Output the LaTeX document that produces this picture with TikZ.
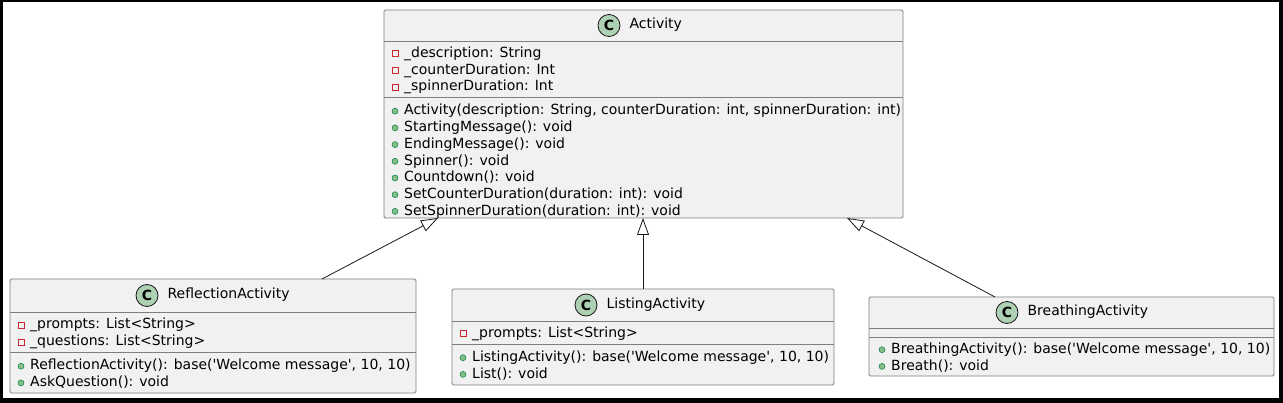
\documentclass[tikz,border=0pt]{standalone}
\usepackage{fontspec}
\newfontfamily\umlfont{DejaVu Sans}
\usetikzlibrary{arrows.meta, calc, positioning}
\definecolor{classfill}{HTML}{F1F1F1}
\definecolor{classline}{HTML}{7E7E7E}
\definecolor{iconfill}{HTML}{ADD1B2}
\definecolor{privred}{HTML}{C82930}
\definecolor{pubfill}{HTML}{84BE84}
\definecolor{publine}{HTML}{038048}
\definecolor{umledge}{HTML}{181818}
\newcommand{\umlsize}{\umlfont\fontsize{14}{16.3}\selectfont}

\begin{document}
\begin{tikzpicture}[x=1pt, y=-1pt,
  every node/.style = {font=\umlsize},
  classbox/.style   = {draw=classline, fill=classfill, line width=0.8pt,
                       rounded corners=1.5pt, anchor=north west,
                       inner sep=0pt, outer sep=0pt},
  sepline/.style    = {draw=classline, line width=0.8pt},
  classicon/.style  = {circle, draw=umledge, fill=iconfill, line width=0.8pt,
                       minimum size=22pt, inner sep=0pt, font=\umlsize\bfseries},
  classname/.style  = {inner sep=0pt, text height=10.5pt, text depth=3.5pt},
  member/.style     = {anchor=base west, inner sep=0pt, text height=10.5pt,
                       text depth=3.5pt},
  rowbelow/.style   = {below=2.3pt of #1.south west, anchor=north west},
  privmark/.style   = {rectangle, draw=privred, line width=0.7pt,
                       minimum size=6pt, inner sep=0pt},
  pubmark/.style    = {circle, draw=publine, fill=pubfill, line width=0.5pt,
                       minimum size=6pt, inner sep=0pt},
  priv/.style       = {member, append after command={
                       node[privmark] at ([xshift=-9pt, yshift=3.8pt]\tikzlastnode.base west) {}}},
  pub/.style        = {member, append after command={
                       node[pubmark] at ([xshift=-9pt, yshift=3.8pt]\tikzlastnode.base west) {}}},
  extends/.style    = {-{Triangle[open, length=17pt, width=12pt]},
                       draw=umledge, line width=0.8pt},
]

  % ---------------------------------------------------------------- frame
  \fill[black] (0,0) rectangle (1283,403);
  \fill[white] (3,2) rectangle (1279,398);

  % ------------------------------------------------------------- Activity
  \node[classbox, minimum width=519pt, minimum height=208pt] (act) at (384,10) {};
  \draw[sepline] (act.west |- 0,41) -- (act.east |- 0,41);
  \draw[sepline] (act.west |- 0,97) -- (act.east |- 0,97);
  \node[classicon] (acticon) at (609,25.5) {C};
  \node[classname, right=9pt of acticon] (actname) {Activity};

  \node[priv] (act-a1) at (404,57.5) {\_description: String};
  \node[priv, rowbelow=act-a1] (act-a2) {\_counterDuration: Int};
  \node[priv, rowbelow=act-a2] (act-a3) {\_spinnerDuration: Int};

  \node[pub] (act-m1) at (404,115) {Activity(description: String, counterDuration: int, spinnerDuration: int)};
  \node[pub, rowbelow=act-m1] (act-m2) {StartingMessage(): void};
  \node[pub, rowbelow=act-m2] (act-m3) {EndingMessage(): void};
  \node[pub, rowbelow=act-m3] (act-m4) {Spinner(): void};
  \node[pub, rowbelow=act-m4] (act-m5) {Countdown(): void};
  \node[pub, rowbelow=act-m5] (act-m6) {SetCounterDuration(duration: int): void};
  \node[pub, rowbelow=act-m6] (act-m7) {SetSpinnerDuration(duration: int): void};

  % --------------------------------------------------- ReflectionActivity
  \node[classbox, minimum width=406pt, minimum height=114pt] (refl) at (10,279) {};
  \draw[sepline] (refl.west |- 0,312) -- (refl.east |- 0,312);
  \draw[sepline] (refl.west |- 0,352) -- (refl.east |- 0,352);
  \node[classicon] (reflicon) at (147,295.5) {C};
  \node[classname, right=9pt of reflicon] (reflname) {ReflectionActivity};

  \node[priv] (refl-a1) at (30,329) {\_prompts: List<String>};
  \node[priv, rowbelow=refl-a1] (refl-a2) {\_questions: List<String>};

  \node[pub] (refl-m1) at (30,370) {ReflectionActivity(): base('Welcome message', 10, 10)};
  \node[pub, rowbelow=refl-m1] (refl-m2) {AskQuestion(): void};

  % ------------------------------------------------------ ListingActivity
  \node[classbox, minimum width=382pt, minimum height=96pt] (lst) at (452,289) {};
  \draw[sepline] (lst.west |- 0,321) -- (lst.east |- 0,321);
  \draw[sepline] (lst.west |- 0,344) -- (lst.east |- 0,344);
  \node[classicon] (lsticon) at (586,305) {C};
  \node[classname, right=9pt of lsticon] (lstname) {ListingActivity};

  \node[priv] (lst-a1) at (472,337.5) {\_prompts: List<String>};

  \node[pub] (lst-m1) at (472,361.5) {ListingActivity(): base('Welcome message', 10, 10)};
  \node[pub, rowbelow=lst-m1] (lst-m2) {List(): void};

  % ---------------------------------------------------- BreathingActivity
  \node[classbox, minimum width=405pt, minimum height=79pt] (brth) at (869,297) {};
  \draw[sepline] (brth.west |- 0,328) -- (brth.east |- 0,328);
  \draw[sepline] (brth.west |- 0,337) -- (brth.east |- 0,337);
  \node[classicon] (brthicon) at (1007,312.5) {C};
  \node[classname, right=9pt of brthicon] (brthname) {BreathingActivity};

  \node[pub] (brth-m1) at (891,353.5) {BreathingActivity(): base('Welcome message', 10, 10)};
  \node[pub, rowbelow=brth-m1] (brth-m2) {Breath(): void};

  % ---------------------------------------------------------- inheritance
  \draw[extends] ($(refl.north west)+(312,0)$) -- ($(act.south west)+(54,0)$);
  \draw[extends] (lst.north) -- (lst.north |- act.south);
  \draw[extends] ($(brth.north west)+(126,0)$) -- ($(act.south east)+(-56,0)$);

\end{tikzpicture}
\end{document}
